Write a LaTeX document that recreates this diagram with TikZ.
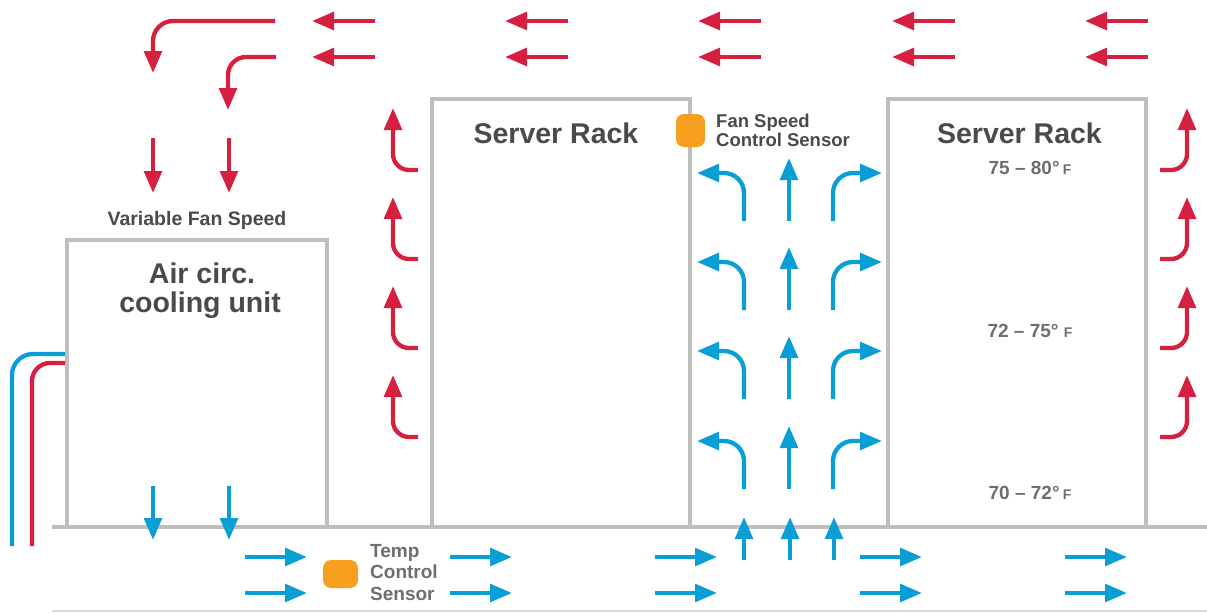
\documentclass[tikz,border=0pt]{standalone}
\usepackage{fontspec}
\setmainfont{Liberation Sans}
\usetikzlibrary{arrows.meta}
\definecolor{hot}{HTML}{D6203F}
\definecolor{cold}{HTML}{0A9ED6}
\definecolor{sensor}{HTML}{F7A01F}
\definecolor{wallgray}{HTML}{BEBEBE}
\definecolor{floorgray}{HTML}{D9D9D9}
\definecolor{darktext}{HTML}{4A4A4A}
\definecolor{lighttext}{HTML}{6E6E6E}
\begin{document}
\begin{tikzpicture}[x=1pt,y=-1pt,
  tipshape/.style={-{Triangle[length=22pt,width=17.5pt]}},
  hotarrow/.style={draw=hot,line width=4.3pt,tipshape},
  coldarrow/.style={draw=cold,line width=4.3pt,tipshape},
  pipe/.style={line width=4.3pt},
  wall/.style={draw=wallgray,line width=4.5pt},
  sensorbox/.style={fill=sensor,rounded corners=8pt},
  lbl/.style={inner sep=0pt,text=darktext,font=\bfseries\fontsize{#1}{#1}\selectfont},
  lbllight/.style={inner sep=0pt,text=lighttext,font=\bfseries\fontsize{#1}{#1}\selectfont}]
\useasboundingbox (0,0) rectangle (1207,613);
\fill[white] (0,0) rectangle (1207,613);

% floor lines
\draw[wall] (52,527) -- (1207,527);
\draw[draw=floorgray,line width=2pt] (52,611) -- (1207,611);

% cooling unit and racks
\draw[wall] (67,527) -- (67,240) -- (327,240) -- (327,527);
\draw[wall] (432,527) -- (432,99) -- (690,99) -- (690,527);
\draw[wall] (888,527) -- (888,99) -- (1146,99) -- (1146,527);

% pipes
\draw[pipe,draw=cold,rounded corners=21pt] (12,546) |- (65,354);
\draw[pipe,draw=hot,rounded corners=18pt] (32,546) |- (65,363);

% top hot return arrows
\foreach \x in {312,505,698,892,1085} {
  \draw[hotarrow] ({\x+63},21) -- (\x,21);
  \draw[hotarrow] ({\x+63},57) -- (\x,57);
}
\draw[hotarrow,rounded corners=20pt] (275,21) -| (153,73);
\draw[hotarrow,rounded corners=18pt] (276,57) -| (228,110);
\draw[hotarrow] (153,138) -- (153,193);
\draw[hotarrow] (229,138) -- (229,193);

% hot aisle rising arrows
\foreach \d in {0,89,178,267} {
  \draw[hotarrow,rounded corners=16pt] (418,{170+\d}) -| (393,{108+\d});
  \draw[hotarrow,rounded corners=16pt] (1160,{170+\d}) -| (1187,{108+\d});
}

% cooling unit outlet arrows
\draw[coldarrow] (153,486) -- (153,540);
\draw[coldarrow] (229,486) -- (229,540);

% underfloor cold arrows
\foreach \x in {245,450,655,860,1065} {
  \draw[coldarrow] (\x,557) -- ({\x+62},557);
  \draw[coldarrow] (\x,593) -- ({\x+62},593);
}

% perforated floor up arrows
\foreach \x in {744,790,834} {
  \draw[coldarrow] (\x,560) -- (\x,517);
}

% cold aisle arrows
\foreach \d in {0,89,178,268} {
  \draw[coldarrow,rounded corners=20pt] (744,{221+\d}) |- (697,{173+\d});
  \draw[coldarrow] (789,{221+\d}) -- (789,{158+\d});
  \draw[coldarrow,rounded corners=20pt] (833,{221+\d}) |- (882,{173+\d});
}

% sensors
\fill[sensorbox] (323,560) rectangle (358,588);
\fill[sensorbox] (676,114) rectangle (705,147);

% labels
\node[lbl=19.5,anchor=base] (vfs) at (197,225) {Variable Fan Speed};
\node[lbl=28.5,anchor=base] (acu1) at (202,283) {Air circ.};
\node[lbl=28.5,anchor=base] (acu2) at (200,312) {cooling unit};
\node[lbl=28.5,anchor=base] (rack1) at (556,143) {Server Rack};
\node[lbl=28.5,anchor=base] (rack2) at (1019.5,143) {Server Rack};
\node[lbl=18.5,anchor=base west] (fs1) at (716,127) {Fan Speed};
\node[lbl=18.5,anchor=base west] (fs2) at (716,146) {Control Sensor};
\node[lbllight=19,anchor=base west] (tc1) at (370,557) {Temp};
\node[lbllight=19,anchor=base west] (tc2) at (370,578.5) {Control};
\node[lbllight=19,anchor=base west] (tc3) at (370,600) {Sensor};
\node[lbllight=19,anchor=base] (t1) at (1030,174) {75 – 80°\,{\fontsize{14}{14}\selectfont F}};
\node[lbllight=19,anchor=base] (t2) at (1030,337) {72 – 75° {\fontsize{14}{14}\selectfont F}};
\node[lbllight=19,anchor=base] (t3) at (1030,499) {70 – 72°\,{\fontsize{14}{14}\selectfont F}};
\end{tikzpicture}
\end{document}
